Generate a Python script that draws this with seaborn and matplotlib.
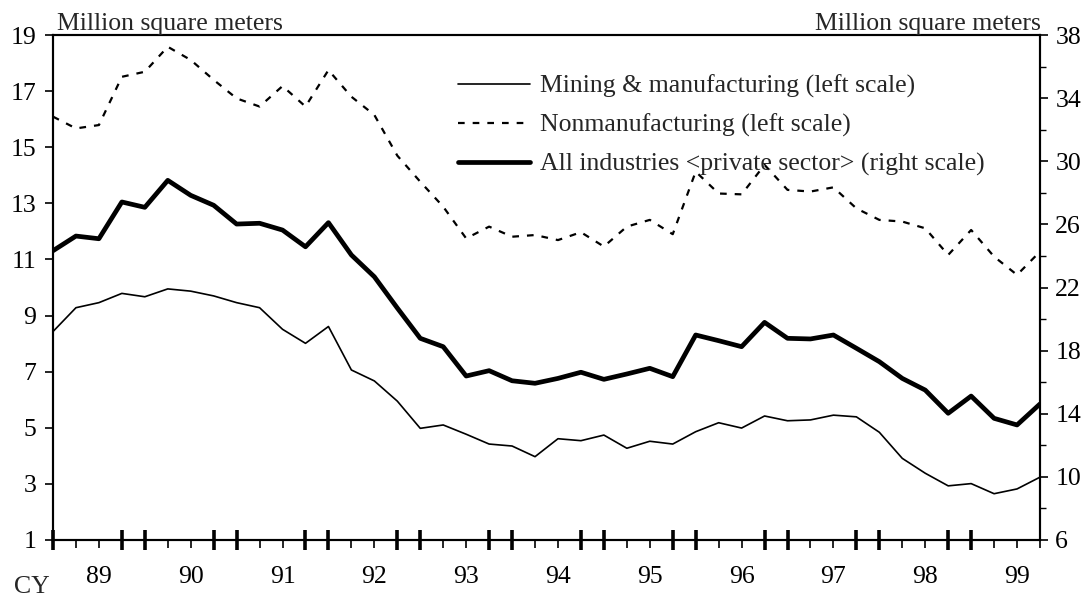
import matplotlib
matplotlib.use("Agg")
import matplotlib.pyplot as plt
from matplotlib.ticker import MultipleLocator, FixedLocator
import numpy as np
import pandas as pd
import seaborn as sns

# ---- data (quarterly, CY1989 - CY1999) ----
year_labels = ["89", "90", "91", "92", "93", "94", "95", "96", "97", "98", "99"]

mining = [8.43, 9.28, 9.46, 9.79, 9.67, 9.95, 9.87, 9.70, 9.46, 9.28,
          8.51, 8.01, 8.61, 7.06, 6.67, 5.95, 4.98, 5.10, 4.77, 4.42,
          4.35, 3.97, 4.61, 4.54, 4.74, 4.27, 4.52, 4.42, 4.86, 5.18,
          4.99, 5.42, 5.25, 5.28, 5.45, 5.39, 4.84, 3.91, 3.38, 2.93,
          3.01, 2.65, 2.82, 3.24]

nonmfg = [16.09, 15.67, 15.79, 17.51, 17.69, 18.58, 18.11, 17.40, 16.74, 16.45,
          17.18, 16.45, 17.75, 16.80, 16.15, 14.70, 13.77, 12.88, 11.75, 12.17,
          11.81, 11.87, 11.69, 11.97, 11.46, 12.17, 12.41, 11.90, 14.13, 13.35,
          13.32, 14.37, 13.48, 13.42, 13.57, 12.82, 12.41, 12.35, 12.11, 11.16,
          12.05, 11.10, 10.45, 11.28]

all_ind = [24.33, 25.26, 25.09, 27.42, 27.08, 28.79, 27.84, 27.21, 26.02, 26.07,
           25.64, 24.58, 26.11, 24.06, 22.68, 20.70, 18.78, 18.25, 16.39, 16.73,
           16.09, 15.93, 16.24, 16.63, 16.18, 16.52, 16.88, 16.35, 18.99, 18.63,
           18.25, 19.79, 18.78, 18.74, 18.99, 18.15, 17.30, 16.24, 15.50, 14.03,
           15.12, 13.71, 13.29, 14.62]

labels = ["Mining & manufacturing (left scale)",
          "Nonmanufacturing (left scale)",
          "All industries <private sector> (right scale)"]

n = len(mining)
df = pd.DataFrame({"q": np.arange(n), "mining": mining,
                   "nonmfg": nonmfg, "all": all_ind})

sns.set_style("white")
plt.rcParams["font.family"] = ["Liberation Serif", "DejaVu Serif"]
FS = 18.5
plt.rcParams["font.size"] = FS

fig = plt.figure(figsize=(10.91, 5.96), dpi=100)
W, H = 1091, 596
ax = fig.add_axes([53 / W, 1 - 540 / H, 987 / W, 505 / H])
ax2 = ax.twinx()

sns.lineplot(data=df, x="q", y="mining", ax=ax, color="black", lw=1.2,
             label=labels[0], legend=False)
sns.lineplot(data=df, x="q", y="nonmfg", ax=ax, color="black", lw=1.6,
             label=labels[1], legend=False)
ax.lines[-1].set_dashes((3, 3.6))
sns.lineplot(data=df, x="q", y="all", ax=ax2, color="black", lw=3.4,
             label=labels[2], legend=False)

ax.set_xlim(0, n - 1)
ax.set_ylim(1, 19)
ax2.set_ylim(6, 38)
ax.set_yticks(np.arange(1, 20, 2))
ax2.set_yticks(np.arange(6, 39, 4))
ax2.yaxis.set_minor_locator(MultipleLocator(2))
ax.set_xlabel("")
ax.set_ylabel("")
ax2.set_ylabel("")

# x ticks: every quarter; year labels centered; heavy marks crossing axis
pos = np.arange(n)
ax.set_xticks(pos)
xl = [""] * n
for k, lab in enumerate(year_labels):
    xl[2 + 4 * k] = lab
ax.set_xticklabels(xl)
heavy = [0] + [p for k in range(10) for p in (4 * k + 3, 4 * k + 4)]
ax.xaxis.remove_overlapping_locs = False
ax.xaxis.set_minor_locator(FixedLocator(heavy))

ax.tick_params(axis="x", which="major", direction="out", length=6, width=1.2,
               pad=13, labelsize=FS, colors="black", bottom=True)
ax.tick_params(axis="x", which="minor", direction="inout", length=14, width=2.6,
               colors="black", bottom=True)
ax.tick_params(axis="y", which="major", direction="out", length=6, width=1.2,
               pad=6, labelsize=FS, colors="black", left=True)
ax2.tick_params(axis="y", which="major", direction="out", length=6, width=1.2,
                pad=5, labelsize=FS, colors="black", right=True)
ax2.tick_params(axis="y", which="minor", direction="out", length=4, width=1.0,
                colors="black", right=True)

for a in (ax, ax2):
    for s in a.spines.values():
        s.set_visible(True)
        s.set_color("black")
        s.set_linewidth(1.5)

# legend
h1, l1 = ax.get_legend_handles_labels()
h2, l2 = ax2.get_legend_handles_labels()
leg = ax2.legend(h1 + h2, l1 + l2, loc="upper left",
                 bbox_to_anchor=((458 - 53) / 987, 0.921), frameon=False,
                 borderpad=0, borderaxespad=0, handlelength=2.8,
                 handletextpad=0.4, labelspacing=0.6, fontsize=FS)

# unit labels and CY
fig.text(57 / W, 1 - 30 / H, "Million square meters", ha="left",
         va="baseline", fontsize=FS)
fig.text(1041 / W, 1 - 30 / H, "Million square meters", ha="right",
         va="baseline", fontsize=FS)
fig.text(14 / W, 1 - 593 / H, "CY", ha="left", va="baseline", fontsize=FS)

fig.savefig("out.png", dpi=100, facecolor="white")
